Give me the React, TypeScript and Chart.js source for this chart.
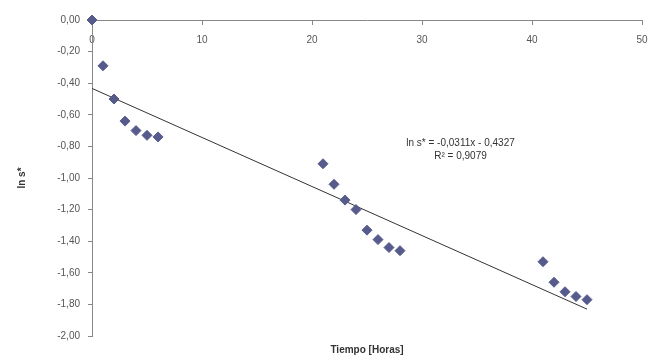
import React, { useEffect, useRef } from "react";
import { Chart, registerables } from "chart.js";

Chart.register(...registerables);

const hours = [0, 1, 2, 3, 4, 5, 6, 21, 22, 23, 24, 25, 26, 27, 28, 41, 42, 43, 44, 45];
const lnS = [0, -0.29, -0.5, -0.64, -0.7, -0.73, -0.74, -0.91, -1.04, -1.14, -1.2, -1.33, -1.39, -1.44, -1.46, -1.53, -1.66, -1.72, -1.75, -1.77];
const trendHours = [0, 45];
const trendValues = [-0.433, -1.83];
const equationText = "ln s* = -0,0311x - 0,4327";
const r2Text = "R² = 0,9079";
const xTitle = "Tiempo [Horas]";
const yTitle = "ln s*";

const FONT = "'Liberation Sans', Arial, sans-serif";

const textPlugin = {
  id: "texts",
  afterDraw(chart: any) {
    const ctx = chart.ctx;
    const ca = chart.chartArea;
    const xs = chart.scales.x;
    const ys = chart.scales.y;
    ctx.save();
    ctx.fillStyle = "#333";
    ctx.textAlign = "center";
    ctx.textBaseline = "middle";
    ctx.font = `bold 10px ${FONT}`;
    ctx.fillText(xTitle, (ca.left + ca.right) / 2, ca.bottom + 14);
    ctx.font = `10px ${FONT}`;
    const ex = xs.getPixelForValue(33.5);
    ctx.fillText(equationText, ex, ys.getPixelForValue(-0.78));
    ctx.fillText(r2Text, ex, ys.getPixelForValue(-0.865));
    ctx.translate(22, (ca.top + ca.bottom) / 2);
    ctx.rotate(-Math.PI / 2);
    ctx.font = `bold 10px ${FONT}`;
    ctx.fillText(yTitle, 0, 0);
    ctx.restore();
  },
};

export default function App() {
  const ref = useRef<HTMLCanvasElement>(null);
  useEffect(() => {
    if (!ref.current) return;
    const chart = new Chart(ref.current, {
      type: "scatter",
      data: {
        datasets: [
          {
            data: hours.map((h, i) => ({ x: h, y: lnS[i] })),
            pointStyle: "rectRot",
            pointRadius: 5,
            backgroundColor: "#575b8c",
            borderColor: "#575b8c",
            borderWidth: 1,
            clip: false,
            order: 1,
          } as any,
          {
            type: "line",
            data: trendHours.map((h, i) => ({ x: h, y: trendValues[i] })),
            borderColor: "#333",
            borderWidth: 1,
            pointRadius: 0,
            fill: false,
            order: 2,
          } as any,
        ],
      },
      options: {
        animation: false,
        responsive: false,
        maintainAspectRatio: false,
        layout: { padding: { left: 0, top: 20, right: 27, bottom: 23 } },
        plugins: { legend: { display: false }, tooltip: { enabled: false } },
        scales: {
          x: {
            type: "linear",
            position: { y: 0 } as any,
            min: 0,
            max: 50,
            ticks: {
              stepSize: 10,
              color: "#555",
              padding: 10,
              font: { size: 10, family: FONT },
            },
            grid: { drawOnChartArea: false, tickLength: 4, color: "#888" },
            border: { color: "#888" },
          },
          y: {
            type: "linear",
            position: "left",
            min: -2,
            max: 0,
            ticks: {
              stepSize: 0.2,
              color: "#555",
              padding: 8,
              font: { size: 10, family: FONT },
              callback: (v: any) => Number(v).toFixed(2).replace(".", ",").replace("-0,00", "0,00"),
            },
            grid: { drawOnChartArea: false, tickLength: 4, color: "#888" },
            border: { color: "#888" },
            afterFit: (s: any) => {
              s.width = 92;
            },
          },
        },
      },
      plugins: [textPlugin],
    });
    return () => chart.destroy();
  }, []);
  return (
    <div style={{ position: "fixed", left: 0, top: 0, width: 669, height: 359, background: "#fff" }}>
      <canvas ref={ref} width={669} height={359} style={{ display: "block" }} />
    </div>
  );
}
